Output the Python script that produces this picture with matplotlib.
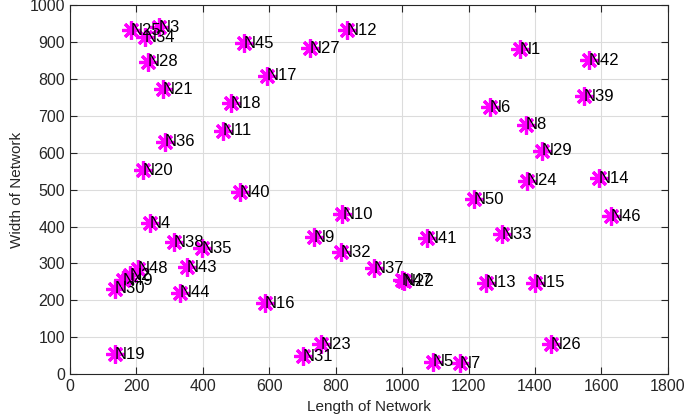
import matplotlib.pyplot as plt
import numpy as np

plt.rcParams['font.family'] = ['Liberation Sans', 'DejaVu Sans']

# node names and coordinates
names = ['N1', 'N2', 'N3', 'N4', 'N5', 'N6', 'N7', 'N8', 'N9', 'N10',
         'N11', 'N12', 'N13', 'N14', 'N15', 'N16', 'N17', 'N18', 'N19', 'N20',
         'N21', 'N22', 'N23', 'N24', 'N25', 'N26', 'N27', 'N28', 'N29', 'N30',
         'N31', 'N32', 'N33', 'N34', 'N35', 'N36', 'N37', 'N38', 'N39', 'N40',
         'N41', 'N42', 'N43', 'N44', 'N45', 'N46', 'N47', 'N48', 'N49', 'N50']
x = [1355, 180, 268, 241, 1093, 1264, 1174, 1372, 734, 820,
     461, 834, 1252, 1593, 1400, 587, 593, 485, 135, 220,
     280, 1005, 756, 1376, 183, 1448, 722, 235, 1421, 135,
     701, 816, 1300, 226, 397, 286, 915, 313, 1547, 512,
     1075, 1562, 352, 331, 524, 1628, 1000, 205, 160, 1216]
y = [880, 268, 940, 409, 33, 723, 30, 675, 371, 433,
     659, 932, 247, 531, 247, 192, 808, 734, 54, 553,
     772, 252, 81, 524, 932, 81, 883, 846, 605, 232,
     49, 330, 379, 913, 341, 629, 287, 358, 753, 493,
     368, 851, 290, 220, 897, 428, 255, 285, 255, 474]

fig = plt.figure(figsize=(6.85, 4.19), dpi=100)
ax = fig.add_axes([0.102, 0.107, 0.873, 0.881])

ax.plot(x, y, linestyle='none', marker=(8, 2, 0), color='#ff00ff',
        markersize=13, markeredgewidth=2.3)
for n, xi, yi in zip(names, x, y):
    ax.text(xi, yi, n, ha='left', va='center', fontsize=12, color='black')

ax.set_xlim(0, 1800)
ax.set_ylim(0, 1000)
ax.set_xticks(np.arange(0, 1801, 200))
ax.set_yticks(np.arange(0, 1001, 100))
ax.grid(True, color='#dcdcdc', linewidth=0.8)
ax.set_axisbelow(True)
ax.tick_params(direction='in', top=True, right=True, labelsize=11.5,
               length=5, color='#262626', labelcolor='#262626')
for s in ax.spines.values():
    s.set_color('#262626')
ax.set_xlabel('Length of Network', fontsize=11, color='#262626')
ax.set_ylabel('Width of Network', fontsize=11, color='#262626')

fig.savefig('out.png', dpi=100)
